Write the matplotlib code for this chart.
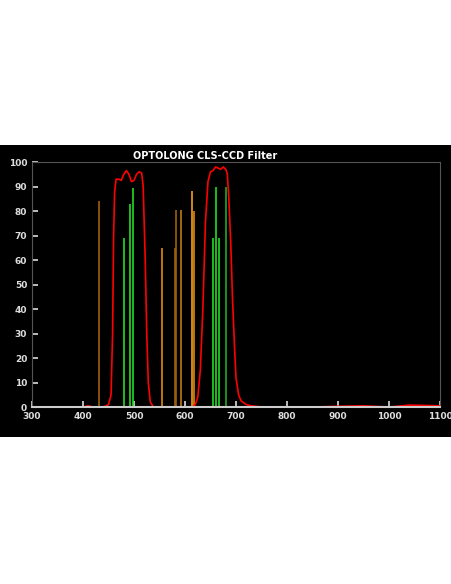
import matplotlib.pyplot as plt

# filter transmission curve (wavelength nm, %)
wl = [400, 410, 420, 440, 450, 455, 458, 460, 462, 465, 470, 475, 480, 485, 490, 495,
      500, 505, 510, 515, 518, 522, 525, 528, 532, 538, 600, 615, 620, 625, 630, 635,
      640, 645, 650, 655, 660, 665, 670, 675, 680, 683, 686, 690, 693, 697, 700, 705,
      710, 720, 730, 750, 850, 900, 950, 1000, 1040, 1100]
trans = [0, 0.5, 0, 0, 1, 5, 30, 70, 88, 93, 93, 92.5, 95, 96.5, 95, 92,
         92.5, 95, 96, 95.5, 90, 60, 30, 10, 2, 0, 0, 0, 1, 4, 15, 40,
         75, 92, 96, 96.5, 98, 97.5, 97, 98, 97, 95, 85, 65, 45, 25, 12, 5,
         2.5, 1, 0.5, 0, 0, 0.3, 0.5, 0, 0.8, 0.5]

# emission lines
line_wl = [432, 481, 492, 499, 554, 580, 583, 593, 614, 618, 654, 660, 666, 680]
line_h = [84, 69, 83, 89.5, 65, 65, 80.5, 80.5, 88, 80, 69, 90, 69, 90]
line_c = ['#a0600c', '#22dd22', '#22dd22', '#22dd22', '#e08a10', '#a0600c', '#a0600c',
          '#c07a14', '#f0a020', '#e08a10', '#22dd22', '#22dd22', '#22dd22', '#22aa22']

fig = plt.figure(figsize=(4.52, 5.84), dpi=100)
fig.patch.set_facecolor('white')
bg = fig.add_axes([0, 0.2517, 1, 0.5])
bg.set_facecolor('black')
bg.set_xticks([]); bg.set_yticks([])
for s in bg.spines.values():
    s.set_visible(False)

ax = fig.add_axes([0.0708, 0.303, 0.9027, 0.4196])
ax.set_facecolor('black')
ax.vlines(line_wl, 0, line_h, colors=line_c, lw=1.2)
ax.plot(wl, trans, color='red', lw=1.2)
ax.set_xlim(300, 1100)
ax.set_ylim(0, 100)
ax.set_xticks(range(300, 1101, 100))
ax.set_yticks(range(0, 101, 10))
ax.tick_params(colors='#dddddd', labelsize=6.5, direction='in', length=4, width=1.2)
for lab in ax.get_xticklabels() + ax.get_yticklabels():
    lab.set_fontweight('bold')
for s in ax.spines.values():
    s.set_color('#555555')
ax.spines['bottom'].set_color('#cccccc')
ax.spines['bottom'].set_linewidth(1.5)

fig.text(205 / 452, (584 - 156) / 584, 'OPTOLONG CLS-CCD Filter', color='white',
         fontsize=7, fontweight='bold', ha='center', va='center')

fig.savefig('out.png', dpi=100, facecolor='white')
